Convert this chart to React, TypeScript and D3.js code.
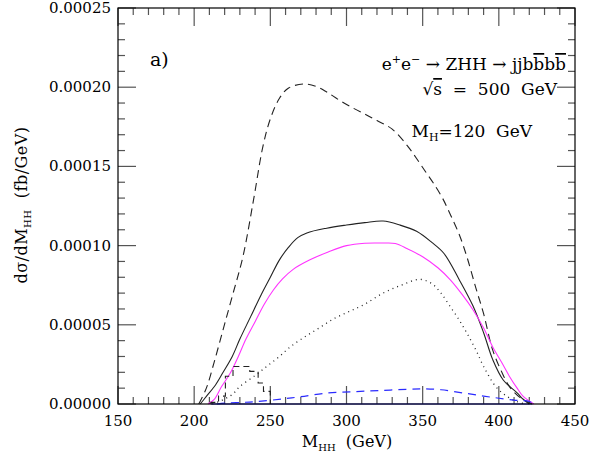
import * as d3 from 'd3';

// curves: [M_HH (GeV), dsigma/dM_HH (fb/GeV)]
const dashedTop: [number, number][] = [
  [203, 0], [208, 1.0e-5], [213, 2.6e-5], [219, 4.7e-5], [225, 6.8e-5],
  [232, 9.3e-5], [239, 1.29e-4], [245, 1.62e-4], [250, 1.8e-4], [256, 1.93e-4],
  [262, 1.995e-4], [272, 2.02e-4], [280, 2.005e-4], [287, 1.97e-4], [295, 1.92e-4],
  [304, 1.87e-4], [312, 1.83e-4], [320, 1.79e-4], [330, 1.735e-4], [340, 1.63e-4],
  [346, 1.55e-4], [352, 1.465e-4], [357, 1.395e-4], [363, 1.3e-4], [368, 1.2e-4],
  [374, 1.07e-4], [379, 9.3e-5], [385, 7.3e-5], [390, 5.7e-5], [396, 3.4e-5],
  [402, 2.0e-5], [407, 1.1e-5], [414, 4e-6], [422, 0],
];

const solidBlack: [number, number][] = [
  [204, 0], [208, 4.8e-6], [214, 1.2e-5], [219, 2.0e-5], [225, 3.0e-5],
  [230, 4.1e-5], [237, 5.5e-5], [244, 6.9e-5], [250, 8.0e-5], [256, 9.1e-5],
  [262, 9.9e-5], [268, 1.05e-4], [274, 1.08e-4], [287, 1.11e-4], [300, 1.13e-4],
  [312, 1.145e-4], [324, 1.155e-4], [335, 1.13e-4], [346, 1.09e-4], [356, 1.02e-4],
  [364, 9.5e-5], [374, 7.85e-5], [383, 6.2e-5], [390, 4.5e-5], [396, 2.8e-5],
  [403, 1.5e-5], [412, 7e-6], [416, 3e-6], [420, 0],
];

const magenta: [number, number][] = [
  [209, 0], [213, 2.7e-6], [218, 1.1e-5], [224, 2.0e-5], [229, 3.0e-5],
  [234, 4.1e-5], [240, 5.2e-5], [246, 6.3e-5], [252, 7.2e-5], [258, 7.9e-5],
  [265, 8.5e-5], [276, 9.1e-5], [288, 9.6e-5], [300, 1.0e-4], [312, 1.015e-4],
  [324, 1.016e-4], [332, 1.013e-4], [340, 9.8e-5], [350, 9.3e-5], [360, 8.6e-5],
  [368, 7.85e-5], [376, 6.9e-5], [383, 5.95e-5], [390, 4.8e-5], [396, 3.6e-5],
  [402, 2.6e-5], [407, 1.74e-5], [412, 1.0e-5], [416, 4.8e-6], [423, 0],
];

const dotted: [number, number][] = [
  [212, 0], [219, 2.7e-6], [225, 6e-6], [230, 1.1e-5], [240, 1.8e-5],
  [248, 2.4e-5], [256, 3.0e-5], [263, 3.6e-5], [272, 4.2e-5], [282, 4.8e-5],
  [292, 5.4e-5], [302, 5.85e-5], [312, 6.3e-5], [324, 7.0e-5], [336, 7.5e-5],
  [348, 7.87e-5], [356, 7.6e-5], [362, 7.0e-5], [368, 6.16e-5], [374, 5.3e-5],
  [379, 4.48e-5], [385, 3.4e-5], [390, 2.37e-5], [398, 1.1e-5], [405, 5e-6],
  [412, 1.5e-6], [418, 0],
];

const blueDashed: [number, number][] = [
  [215, 0], [221, 6e-7], [231, 1.0e-6], [241, 1.5e-6], [258, 3.2e-6],
  [270, 4.6e-6], [287, 6.9e-6], [305, 7.8e-6], [322, 8.5e-6], [340, 9.3e-6],
  [350, 9.6e-6], [362, 9.0e-6], [377, 6.9e-6], [390, 5.0e-6], [399, 3.8e-6],
  [410, 2.5e-6], [420, 1.6e-6], [423, 0],
];

const blueZero: [number, number][] = [[211, 0], [422, 0]];

// dashed histogram: bin edges and heights
const histEdges = [211, 216, 220.5, 225.5, 236.5, 242, 245.5, 250];
const histValues = [1e-6, 5e-6, 1.75e-5, 2.37e-5, 2.06e-5, 1.33e-5, 8e-6];

const xMajor = [150, 200, 250, 300, 350, 400, 450];
const yMajor = [0, 0.00005, 0.0001, 0.00015, 0.0002, 0.00025];

const W = 594;
const H = 461;
const margin = { top: 8, right: 19, bottom: 57, left: 118 };
const FONT = "'DejaVu Serif', serif";

export default function App() {
  const x = d3.scaleLinear().domain([150, 450]).range([margin.left, W - margin.right]);
  const y = d3.scaleLinear().domain([0, 0.00025]).range([H - margin.bottom, margin.top]);
  const x0 = margin.left, x1 = W - margin.right;
  const y0 = H - margin.bottom, y1 = margin.top;

  const line = d3
    .line<[number, number]>()
    .x((d) => x(d[0]))
    .y((d) => y(d[1]))
    .curve(d3.curveCatmullRom.alpha(0.5));

  const histPts: [number, number][] = histEdges.map((e, i) => [e, i < histValues.length ? histValues[i] : 0]);
  histPts.unshift([histEdges[0], 0]);
  const histLine = d3
    .line<[number, number]>()
    .x((d) => x(d[0]))
    .y((d) => y(d[1]))
    .curve(d3.curveStepAfter);

  const xMinor = d3.range(150, 451, 10).filter((v) => v % 50 !== 0);
  const yMinor = d3.range(0, 0.000251, 0.00001).filter((v) => Math.round(v * 1e6) % 50 !== 0);
  const fmt = d3.format('.5f');
  const major = 18;
  const minor = 7;
  const tickCol = '#555';
  const over = { textDecoration: 'overline' };

  return (
    <svg width={W} height={H} style={{ position: 'absolute', left: 0, top: 0, background: '#fff' }} fontFamily={FONT}>
      <rect width={W} height={H} fill="#fff" />
      {/* ticks on all four sides */}
      <g stroke={tickCol} strokeWidth={1.2}>
        {xMajor.map((v) => (
          <g key={'xm' + v}>
            <line x1={x(v)} x2={x(v)} y1={y0} y2={y0 - major} />
            <line x1={x(v)} x2={x(v)} y1={y1} y2={y1 + major} />
          </g>
        ))}
        {xMinor.map((v) => (
          <g key={'xn' + v}>
            <line x1={x(v)} x2={x(v)} y1={y0} y2={y0 - minor} />
            <line x1={x(v)} x2={x(v)} y1={y1} y2={y1 + minor} />
          </g>
        ))}
        {yMajor.map((v) => (
          <g key={'ym' + v}>
            <line x1={x0} x2={x0 + major} y1={y(v)} y2={y(v)} />
            <line x1={x1} x2={x1 - major} y1={y(v)} y2={y(v)} />
          </g>
        ))}
        {yMinor.map((v) => (
          <g key={'yn' + v}>
            <line x1={x0} x2={x0 + minor} y1={y(v)} y2={y(v)} />
            <line x1={x1} x2={x1 - minor} y1={y(v)} y2={y(v)} />
          </g>
        ))}
      </g>

      {/* curves */}
      <g fill="none">
        <path d={line(blueZero) || ''} stroke="#2a2aff" strokeWidth={1.2} />
        <path d={line(dashedTop) || ''} stroke="#222" strokeWidth={1.1} strokeDasharray="8,5" />
        <path d={line(solidBlack) || ''} stroke="#222" strokeWidth={1.1} />
        <path d={line(magenta) || ''} stroke="#ff33ff" strokeWidth={1.1} />
        <path d={line(dotted) || ''} stroke="#222" strokeWidth={1.3} strokeDasharray="1,4" />
        <path d={line(blueDashed) || ''} stroke="#2a2aff" strokeWidth={1.2} strokeDasharray="8,6" />
        <path d={histLine(histPts) || ''} stroke="#222" strokeWidth={1.1} strokeDasharray="6,4" />
      </g>

      {/* frame */}
      <rect x={x0} y={y1} width={x1 - x0} height={y0 - y1} fill="none" stroke="#000" strokeWidth={1.2} />

      {/* tick labels */}
      <g fontSize={15} fill="#000">
        {xMajor.map((v) => (
          <text key={'xl' + v} x={x(v)} y={y0 + 22} textAnchor="middle">
            {v}
          </text>
        ))}
        {yMajor.map((v) => (
          <text key={'yl' + v} x={x0 - 7} y={y(v) + 5} textAnchor="end">
            {fmt(v)}
          </text>
        ))}
      </g>

      {/* axis titles */}
      <text x={347} y={447} textAnchor="middle" fontSize={16}>
        M<tspan fontSize={10} dy={4}>HH</tspan>
        <tspan dy={-4}>{'\u00a0\u00a0(GeV)'}</tspan>
      </text>
      <text transform="translate(27,205) rotate(-90)" textAnchor="middle" fontSize={16} letterSpacing={0.5}>
        d&#963;/dM<tspan fontSize={10} dy={4}>HH</tspan>
        <tspan dy={-4}>{'\u00a0\u00a0(fb/GeV)'}</tspan>
      </text>

      {/* annotations */}
      <text x={150} y={66} fontSize={19}>a)</text>
      <text x={566} y={70} textAnchor="end" fontSize={17}>
        e<tspan fontSize={11} dy={-7}>+</tspan>
        <tspan dy={7}>e</tspan>
        <tspan fontSize={11} dy={-7}>&#8722;</tspan>
        <tspan dy={7}>{'\u00a0\u2192\u00a0ZHH\u00a0\u2192\u00a0jjb'}</tspan>
        <tspan style={over}>b</tspan>
        <tspan>b</tspan>
        <tspan style={over}>b</tspan>
      </text>
      <text x={557} y={95} textAnchor="end" fontSize={17}>
        {'\u221a'}
        <tspan style={over}>s</tspan>
        <tspan>{'\u00a0\u00a0=\u00a0\u00a0500\u00a0\u00a0GeV'}</tspan>
      </text>
      <text x={532} y={137} textAnchor="end" fontSize={17}>
        M<tspan fontSize={11} dy={4}>H</tspan>
        <tspan dy={-4}>=120&#160; GeV</tspan>
      </text>
    </svg>
  );
}
